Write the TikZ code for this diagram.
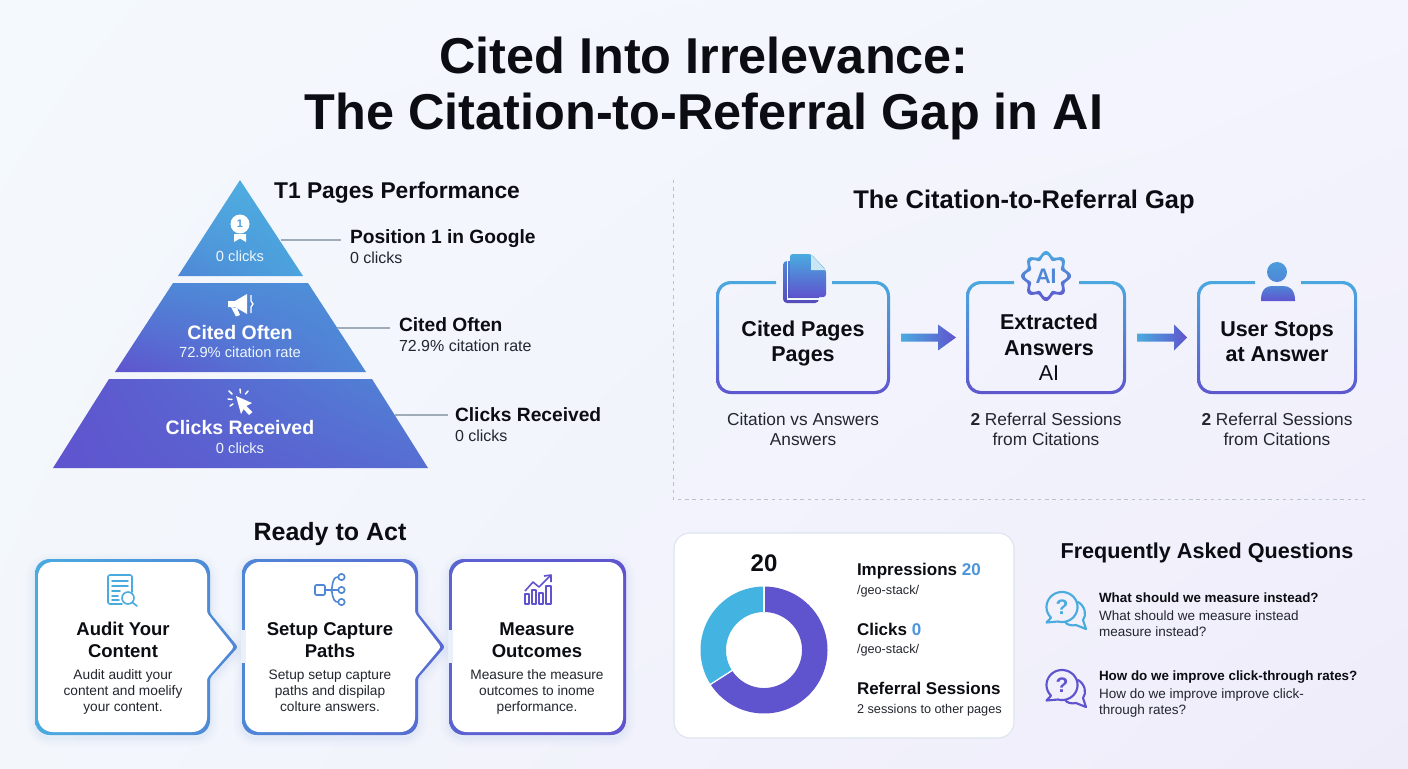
\documentclass[tikz,border=0pt]{standalone}
\usepackage{fontspec}
\setmainfont{Liberation Sans}
\usetikzlibrary{calc,shadings}
\definecolor{ink}{HTML}{0B0D12}
\definecolor{bodyc}{HTML}{23262E}
\definecolor{cblue}{HTML}{4AABDF}
\definecolor{cmid}{HTML}{4F86D6}
\definecolor{cpurple}{HTML}{5F54CE}
\definecolor{leader}{HTML}{9FACB8}
\definecolor{bgA}{HTML}{F4F9FD}
\definecolor{bgB}{HTML}{F3F4FD}
\definecolor{bgC}{HTML}{F3F7FC}
\definecolor{bgD}{HTML}{EFECFA}
\definecolor{dashc}{HTML}{B9C3CC}
\definecolor{cardline}{HTML}{DDE4F0}
\newcommand\pxf[1]{\pgfmathsetmacro\tmpfs{#1*0.75}\fontsize{\tmpfs}{\tmpfs}\selectfont}
\tikzset{
  even odd clip/.code={\pgfseteorule},
  txt/.style={inner sep=0pt,outer sep=0pt,text=ink,align=center},
  maintitle/.style={txt,anchor=mid,yshift=-10.5pt,font=\pxf{50.4}\bfseries},
  sectitle/.style={txt,anchor=mid,yshift=-3.4pt,font=\pxf{25}\bfseries},
  lbold/.style={txt,anchor=mid west,yshift=-3pt,font=\pxf{19.2}\bfseries},
  lsmall/.style={txt,anchor=mid west,yshift=-1.4pt,text=bodyc,font=\pxf{16}},
  pybold/.style={txt,anchor=mid,yshift=-3pt,text=white,font=\pxf{19.5}\bfseries},
  pysmall/.style={txt,anchor=mid,yshift=-1.4pt,text=white!90!cblue,font=\pxf{14.7}},
  flowbold/.style={txt,anchor=mid,yshift=-3.4pt,font=\pxf{21.5}\bfseries},
  flowreg/.style={txt,anchor=mid,yshift=-3.4pt,font=\pxf{21.5}},
  flowsub/.style={txt,anchor=mid,yshift=-1.4pt,text=bodyc,font=\pxf{17.3}},
  stepbold/.style={txt,anchor=mid,yshift=-2.4pt,font=\pxf{18.5}\bfseries},
  stepsub/.style={txt,anchor=mid,yshift=-1.2pt,text=bodyc,font=\pxf{13.7}},
  statb/.style={txt,anchor=mid west,yshift=-2.4pt,font=\pxf{17}\bfseries},
  stats/.style={txt,anchor=mid west,yshift=-1.2pt,text=bodyc,font=\pxf{12.7}},
  faqb/.style={txt,anchor=mid west,yshift=-1.2pt,font=\pxf{13.4}\bfseries},
  faqs/.style={txt,anchor=mid west,yshift=-1.2pt,text=bodyc,font=\pxf{13.5}},
  leaderline/.style={draw=leader,line width=1pt},
  dashline/.style={draw=dashc,line width=0.7pt,dash pattern=on 2.6pt off 2.8pt},
}
\newcommand\gapbox[7]{%
  \begin{scope}
    \clip (#2-4,#3-4) -- (#6,#3-4) -- (#6,#3+6) -- (#7,#3+6) -- (#7,#3-4) -- (#4+4,#3-4) -- (#4+4,#5+4) -- (#2-4,#5+4) -- cycle;
    \clip[even odd clip,rounded corners=11pt] (#2,#3) rectangle (#4,#5) [rounded corners=9pt] (#2+3,#3+3) rectangle (#4-3,#5-3);
    \shade[top color=cblue,bottom color=cpurple] (#2-4,#3-4) rectangle (#4+4,#5+4);
  \end{scope}
  \coordinate (#1-e) at (#4,{(#3+#5)/2});
  \coordinate (#1-w) at (#2,{(#3+#5)/2});
}
\newcommand\fatarrow[2]{%
  \shade[left color=cblue,right color=cpurple]
    ($(#1)+(11,-4)$) -- ($(#1)+(48,-4)$) -- ($(#1)+(48,-13)$) -- ($(#2)+(-10,0)$) -- ($(#1)+(48,13)$) -- ($(#1)+(48,4)$) -- ($(#1)+(11,4)$) -- cycle;
}
\newcommand\stepshape[5]{(#1,{(#2+#4)/2}) [rounded corners=11pt] -- (#1,#2) -- (#3,#2) [rounded corners=2pt] -- (#3,613) -- (#5,647) -- (#3,678) [rounded corners=11pt] -- (#3,#4) -- (#1,#4) -- cycle}
\newcommand\stepbox[8]{%
  \foreach \w/\o in {18/.012,14/.014,10/.016,6/.02,3/.024}{
    \draw[line width=\w*0.75pt,draw=cmid,opacity=\o,yshift=-2.2pt] \stepshape{#1}{#2}{#3}{#4}{#5};
  }
  \shade[left color=#6,right color=#7] \stepshape{#1}{#2}{#3}{#4}{#5};
  \fill[white] \stepshape{#1+3}{#2+3}{#3-3}{#4-3}{#8};
}
\newcommand\bubbleicon[4]{% name cx cy colour
  \begin{scope}[shift={(#2,#3)},line width=1.6pt,line cap=round,line join=round]
    \draw[#4] plot[domain=135:465,samples=60,smooth] ({15.5*cos(\x)},{15*sin(\x)}) -- (-15.5,15.5) -- cycle;
    \draw[#4] (16,-5) .. controls (23,-1) and (25,8) .. (21,13) -- (24,22) -- (14,18) .. controls (10,19) and (5,18) .. (3,15);
    \node[inner sep=0pt,text=#4,font=\pxf{21}\bfseries] (#1) at (0,0) {?};
  \end{scope}
}
\begin{document}
\begin{tikzpicture}[x=0.75pt,y=-0.75pt]
\useasboundingbox (0,0) rectangle (1408,768);
\shade[upper left=bgA,upper right=bgB,lower left=bgC,lower right=bgD] (0,0) rectangle (1408,768);

% title
\node[maintitle] (t1) at (704,56) {Cited Into Irrelevance:};
\node[maintitle] (t2) at (704,112) {The Citation-to-Referral Gap in AI};

% pyramid
\shade[upper left=cblue!95!white,upper right=cblue,lower left=cmid,lower right=cblue!80!cmid] (240,180) -- (303,276) -- (178,276) -- cycle;
\shade[upper left=cmid,upper right=cmid!70!cblue,lower left=cpurple,lower right=cmid] (173,283) -- (308,283) -- (366,372) -- (115,372) -- cycle;
\shade[upper left=cpurple,upper right=cmid,lower left=cpurple,lower right=cpurple!50!cmid] (109,379) -- (372,379) -- (428,468) -- (53,468) -- cycle;

% medal
\fill[white] (240,224) circle[radius=9.5];
\fill[white] (234,234) -- (246,234) -- (246,242) -- (240,238.5) -- (234,242) -- cycle;
\node[txt,text=cblue!70!cmid,font=\pxf{11}\bfseries] (medal) at (240,224) {1};
\node[pysmall] (p1s) at (240,256) {0 clicks};
% megaphone
\fill[white] (228,301) -- (235,301) -- (247,294) -- (247,314) -- (235,307) -- (228,307) -- cycle;
\fill[white] (231,307) -- (237,308) -- (240,315) -- (236,316.5) -- cycle;
\draw[white,line width=1pt] (251,295) -- (251,301) -- (253,304) -- (251,307) -- (251,313);
\node[pybold] (p2b) at (240,332) {Cited Often};
\node[pysmall] (p2s) at (240,352) {72.9\% citation rate};
% cursor
\fill[white] (236,396) -- (252,403) -- (246.5,406) -- (252.5,412) -- (249,415) -- (243.5,409) -- (241,414) -- cycle;
\draw[white,line width=1.1pt,line cap=round] (240,389) -- (240.5,393) (229,391) -- (232,394) (228,399) -- (232,399.5) (230,406) -- (233,404) (248,391) -- (245.5,394);
\node[pybold] (p3b) at (240,427) {Clicks Received};
\node[pysmall] (p3s) at (240,448) {0 clicks};

% pyramid labels
\node[sectitle,font=\pxf{22.8}\bfseries] (perf) at (397,190) {T1 Pages Performance};
\node[lbold] (l1b) at (350,236) {Position 1 in Google};
\node[lsmall] (l1s) at (350,258) {0 clicks};
\node[lbold] (l2b) at (399,324) {Cited Often};
\node[lsmall] (l2s) at (399,346) {72.9\% citation rate};
\node[lbold] (l3b) at (455,414) {Clicks Received};
\node[lsmall] (l3s) at (455,436) {0 clicks};
\coordinate (t1r) at (281,240);
\coordinate (t1e) at (341,240);
\coordinate (t2r) at (337,328);
\coordinate (t2e) at (390,328);
\coordinate (t3r) at (395,415);
\coordinate (t3e) at (448,415);
\draw[leaderline] (t1r) -- (t1e);
\draw[leaderline] (t2r) -- (t2e);
\draw[leaderline] (t3r) -- (t3e);

% dashed frame
\coordinate (dA) at (673,180);
\coordinate (dB) at (673,499);
\coordinate (dC) at (1366,499);
\draw[dashline] (dA) -- (dB) -- (dC);

% citation gap
\node[sectitle,font=\pxf{25.5}\bfseries] (gap) at (1024,200) {The Citation-to-Referral Gap};
\gapbox{cited}{716}{281}{890}{394}{776}{832}
\gapbox{extr}{966}{281}{1126}{394}{1014}{1079}
\gapbox{user}{1197}{281}{1357}{394}{1255}{1301}
\fatarrow{cited-e}{extr-w}
\fatarrow{extr-e}{user-w}

% document icon
\shade[top color=cmid,bottom color=cpurple!90!black,rounded corners=3pt] (783,261) rectangle (819,303);
\draw[white!92!cblue,line width=1pt] (787.5,258) -- (787.5,299) -- (826,299);
\shade[top color=cblue,bottom color=cpurple,rounded corners=2pt] (790,254) -- (811,254) -- (826,270) -- (826,297) -- (790,297) -- cycle;
\fill[white!70!cblue] (811,254.5) -- (825.5,270) -- (811,270) -- cycle;
% AI gear
\begin{scope}
  \clip[even odd clip] plot[domain=0:360,samples=121,smooth] ({1046+(22.5+2.5*cos(8*\x))*cos(\x)},{276+(22.5+2.5*cos(8*\x))*sin(\x)}) -- cycle
     plot[domain=0:360,samples=121,smooth] ({1046+(18.8+2.5*cos(8*\x))*cos(\x)},{276+(18.8+2.5*cos(8*\x))*sin(\x)}) -- cycle;
  \shade[top color=cblue,bottom color=cpurple] (1018,250) rectangle (1074,302);
\end{scope}
\node[txt,text=cmid,font=\pxf{21}\bfseries] (ailogo) at (1046,276) {AI};
% person
\shade[top color=cblue!60!cmid,bottom color=cmid] (1277,272) circle[radius=10];
\shade[top color=cmid,bottom color=cpurple] (1261,301) .. controls (1261,300) and (1260,286) .. (1272,286) -- (1283,286) .. controls (1296,286) and (1295,300) .. (1295,301) -- cycle;

\node[flowbold] (c1) at (803,328) {Cited Pages};
\node[flowbold] (c2) at (803,353) {Pages};
\node[flowbold] (e1) at (1049,321) {Extracted};
\node[flowbold] (e2) at (1049,347) {Answers};
\node[flowreg] (e3) at (1049,372) {AI};
\node[flowbold] (u1) at (1277,328) {User Stops};
\node[flowbold] (u2) at (1277,353) {at Answer};
\node[flowsub] (cs1) at (803,420) {Citation vs Answers};
\node[flowsub] (cs2) at (803,440) {Answers};
\node[flowsub] (es1) at (1046,420) {\textbf{2} Referral Sessions};
\node[flowsub] (es2) at (1046,440) {from Citations};
\node[flowsub] (us1) at (1277,420) {\textbf{2} Referral Sessions};
\node[flowsub] (us2) at (1277,440) {from Citations};

% ready to act
\node[sectitle] (ready) at (330,532) {Ready to Act};
\stepbox{449}{559}{626}{735}{626}{cpurple!70!cmid}{cpurple}{623}
\stepbox{242}{559}{418}{735}{445}{cmid}{cmid!45!cpurple}{441}
\stepbox{35}{559}{210}{735}{238}{cblue}{cmid}{234}
\fill[white!88!cmid] (241,630) rectangle (245.5,663);
\fill[white!88!cmid] (448,630) rectangle (452.5,663);

% audit icon
\begin{scope}[line width=1.2pt,line cap=round]
  \draw[cblue,rounded corners=1.5pt] (122,604) -- (108,604) -- (108,575) -- (132,575) -- (132,592);
  \draw[cblue] (112,581) -- (128,581) (112,586) -- (128,586) (112,591) -- (120,591) (112,596) -- (118,596) (112,600) -- (119,600);
  \draw[cblue] (128,598) circle[radius=6];
  \draw[cblue] (132.5,602.5) -- (137,606);
\end{scope}
% network icon
\begin{scope}[line width=1.2pt,line cap=round]
  \draw[cmid,rounded corners=1pt] (315,585) rectangle (325,595);
  \draw[cmid] (325,590) -- (338,590);
  \draw[cmid] (338,577) .. controls (331,577) and (333,590) .. (331,590) .. controls (333,590) and (331,602) .. (338,602);
  \draw[cmid] (341.5,577) circle[radius=3.2] (341.5,590) circle[radius=3.2] (341.5,602) circle[radius=3.2];
\end{scope}
% chart icon
\begin{scope}[line width=1.2pt,line join=round]
  \draw[cpurple] (525,604) rectangle (529,594) (532,604) rectangle (536,590) (539,604) rectangle (543,593) (546,604) rectangle (551,586);
  \draw[cpurple] (525,591) -- (533,582) -- (539,587) -- (550,576);
  \draw[cpurple] (544,576) -- (551,575) -- (551,582);
\end{scope}

\node[stepbold] (a1) at (123,629) {Audit Your};
\node[stepbold] (a2) at (123,651) {Content};
\node[stepsub] (a3) at (123,674) {Audit auditt your};
\node[stepsub] (a4) at (123,690) {content and moelify};
\node[stepsub] (a5) at (123,706) {your content.};
\node[stepbold] (b1) at (330,629) {Setup Capture};
\node[stepbold] (b2) at (330,651) {Paths};
\node[stepsub] (b3) at (330,674) {Setup setup capture};
\node[stepsub] (b4) at (330,690) {paths and dispilap};
\node[stepsub] (b5) at (330,706) {colture answers.};
\node[stepbold] (m1) at (537,629) {Measure};
\node[stepbold] (m2) at (537,651) {Outcomes};
\node[stepsub] (m3) at (537,674) {Measure the measure};
\node[stepsub] (m4) at (537,690) {outcomes to inome};
\node[stepsub] (m5) at (537,706) {performance.};

% stats card
\draw[fill=white,draw=cardline,line width=0.8pt,rounded corners=12pt] (674,533) rectangle (1014,738);
\fill[cpurple] plot[domain=-90:147.3,samples=90] ({764+63.5*cos(\x)},{650+63.5*sin(\x)}) -- plot[domain=147.3:-90,samples=90] ({764+38*cos(\x)},{650+38*sin(\x)}) -- cycle;
\fill[cblue!90!cyan] plot[domain=147.3:270,samples=60] ({764+63.5*cos(\x)},{650+63.5*sin(\x)}) -- plot[domain=270:147.3,samples=60] ({764+38*cos(\x)},{650+38*sin(\x)}) -- cycle;
\draw[white,line width=1pt] (764,586) -- (764,612);
\draw[white,line width=1pt] ({764+37*cos(147.3)},{650+37*sin(147.3)}) -- ({764+64*cos(147.3)},{650+64*sin(147.3)});
\node[txt,anchor=mid,yshift=-3pt,font=\pxf{24}\bfseries] (donut) at (764,564) {20};
\node[statb] (s1) at (857,569) {Impressions {\color{cmid!60!cblue}20}};
\node[stats] (s1s) at (857,589) {/geo-stack/};
\node[statb] (s2) at (857,629) {Clicks {\color{cmid!60!cblue}0}};
\node[stats] (s2s) at (857,648) {/geo-stack/};
\node[statb] (s3) at (857,688) {Referral Sessions};
\node[stats] (s3s) at (857,708) {2 sessions to other pages};

% FAQ
\node[sectitle,font=\pxf{21.6}\bfseries] (faq) at (1207,550) {Frequently Asked Questions};
\bubbleicon{q1}{1062}{607}{cblue}
\bubbleicon{q2}{1062}{685}{cpurple}
\node[faqb] (f1) at (1099,597) {What should we measure instead?};
\node[faqs] (f1a) at (1099,615) {What should we measure instead};
\node[faqs] (f1b) at (1099,631) {measure instead?};
\node[faqb] (f2) at (1099,675) {How do we improve click-through rates?};
\node[faqs] (f2a) at (1099,693) {How do we improve improve click-};
\node[faqs] (f2b) at (1099,709) {through rates?};
\end{tikzpicture}
\end{document}
